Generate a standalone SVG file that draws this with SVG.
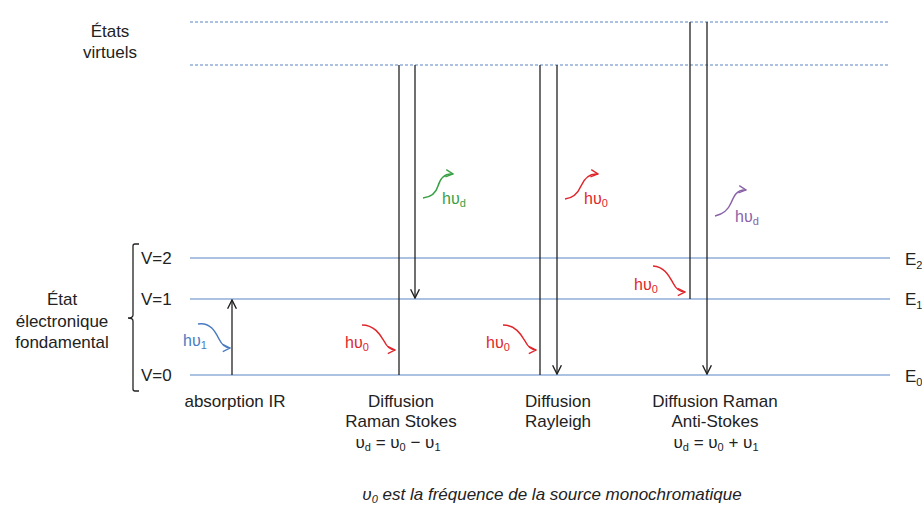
<svg xmlns="http://www.w3.org/2000/svg" width="922" height="509" viewBox="0 0 922 509">
<style>
text{font-family:"Liberation Sans",Arial,sans-serif;font-size:17px;fill:#222}
.c{text-anchor:middle}
.lvl{stroke:#5b86c5;stroke-width:1.2}
.virt{stroke:#5b86c5;stroke-width:1.2;stroke-dasharray:3 2}
.tr{stroke:#222;stroke-width:1.3;fill:none}
.wv{fill:none;stroke-width:1.5}
.sub{font-size:11px}
.ph{font-size:16px}
.red{fill:#e0262b}
</style>
<defs>
<marker id="ah" viewBox="0 0 10 10" refX="9" refY="5" markerWidth="11" markerHeight="11" markerUnits="userSpaceOnUse" orient="auto"><path d="M1,1 L9,5 L1,9" fill="none" stroke="#222" stroke-width="1.3"/></marker>
<marker id="ahr" viewBox="0 0 10 10" refX="9" refY="5" markerWidth="9" markerHeight="9" markerUnits="userSpaceOnUse" orient="auto"><path d="M1,1 L9,5 L1,9" fill="none" stroke="#e0262b" stroke-width="1.5"/></marker>
<marker id="ahb" viewBox="0 0 10 10" refX="9" refY="5" markerWidth="9" markerHeight="9" markerUnits="userSpaceOnUse" orient="auto"><path d="M1,1 L9,5 L1,9" fill="none" stroke="#4a7cc0" stroke-width="1.5"/></marker>
<marker id="ahg" viewBox="0 0 10 10" refX="9" refY="5" markerWidth="9" markerHeight="9" markerUnits="userSpaceOnUse" orient="auto"><path d="M1,1 L9,5 L1,9" fill="none" stroke="#3aa045" stroke-width="1.5"/></marker>
<marker id="ahp" viewBox="0 0 10 10" refX="9" refY="5" markerWidth="9" markerHeight="9" markerUnits="userSpaceOnUse" orient="auto"><path d="M1,1 L9,5 L1,9" fill="none" stroke="#8a62a8" stroke-width="1.5"/></marker>
</defs>
<rect width="922" height="509" fill="#fff"/>

<g id="levels">
<line class="virt" x1="190" y1="22" x2="890" y2="22"/>
<line class="virt" x1="190" y1="65" x2="890" y2="65"/>
<line class="lvl" x1="190" y1="258" x2="890" y2="258"/>
<line class="lvl" x1="190" y1="299" x2="890" y2="299"/>
<line class="lvl" x1="190" y1="375" x2="890" y2="375"/>
<text x="905" y="265">E<tspan class="sub" dy="4">2</tspan></text>
<text x="905" y="305">E<tspan class="sub" dy="4">1</tspan></text>
<text x="905" y="382">E<tspan class="sub" dy="4">0</tspan></text>
<text x="141" y="264">V=2</text>
<text x="141" y="305">V=1</text>
<text x="141" y="381">V=0</text>
</g>

<g id="labels-left">
<text class="c" x="110" y="37">États</text>
<text class="c" x="110" y="58">virtuels</text>
<text class="c" x="62" y="305">État</text>
<text class="c" x="62" y="327">électronique</text>
<text class="c" x="62" y="348">fondamental</text>
<path class="tr" d="M139,244 L135,244 Q133,244 133,246 L133,315 Q133,318 128,318 Q133,318 133,321 L133,389 Q133,391 135,391 L139,391" stroke-width="1.2"/>
</g>

<g id="connectors">
<line class="tr" x1="232" y1="375" x2="232" y2="300" marker-end="url(#ah)"/>
<line class="tr" x1="399" y1="375" x2="399" y2="65"/>
<line class="tr" x1="415" y1="65" x2="415" y2="298" marker-end="url(#ah)"/>
<line class="tr" x1="540" y1="375" x2="540" y2="65"/>
<line class="tr" x1="557" y1="65" x2="557" y2="374" marker-end="url(#ah)"/>
<line class="tr" x1="690" y1="299" x2="690" y2="22"/>
<line class="tr" x1="707" y1="22" x2="707" y2="374" marker-end="url(#ah)"/>
</g>

<g id="absorption-ir">
<path class="wv" stroke="#4a7cc0" d="M198,324 C210,322 215,331 219,339 C222,345 225,348 230,348" marker-end="url(#ahb)"/>
<text class="ph" x="183" y="346" style="fill:#4a7cc0">hυ<tspan class="sub" dy="3">1</tspan></text>
<text class="c" x="235" y="407">absorption IR</text>
</g>

<g id="raman-stokes">
<path class="wv" stroke="#e0262b" d="M362,325 C374,325 380,334 384,341 C387,347 390,350 395,350" marker-end="url(#ahr)"/>
<text class="ph red" x="345" y="348">hυ<tspan class="sub" dy="3">0</tspan></text>
<path class="wv" stroke="#3aa045" d="M423,198 C432,197 436,193 438,186 C440,179 444,173 453,174" marker-end="url(#ahg)"/>
<text class="ph" x="442" y="204" style="fill:#3aa045">hυ<tspan class="sub" dy="3">d</tspan></text>
<text class="c" x="401" y="407">Diffusion</text>
<text class="c" x="401" y="427">Raman Stokes</text>
<text class="c" x="398" y="448">υ<tspan class="sub" dy="3">d</tspan><tspan dy="-3"> = υ</tspan><tspan class="sub" dy="3">0</tspan><tspan dy="-3"> − υ</tspan><tspan class="sub" dy="3">1</tspan></text>
</g>

<g id="rayleigh">
<path class="wv" stroke="#e0262b" d="M503,325 C515,325 521,334 525,341 C528,347 531,350 536,350" marker-end="url(#ahr)"/>
<text class="ph red" x="486" y="348">hυ<tspan class="sub" dy="3">0</tspan></text>
<path class="wv" stroke="#e0262b" d="M565,199 C574,198 578,193 581,186 C584,179 589,173 598,174" marker-end="url(#ahr)"/>
<text class="ph red" x="584" y="204">hυ<tspan class="sub" dy="3">0</tspan></text>
<text class="c" x="558" y="407">Diffusion</text>
<text class="c" x="558" y="427">Rayleigh</text>
</g>

<g id="anti-stokes">
<path class="wv" stroke="#e0262b" d="M653,266 C665,267 669,276 673,283 C676,289 679,292 685,292" marker-end="url(#ahr)"/>
<text class="ph red" x="634" y="290">hυ<tspan class="sub" dy="3">0</tspan></text>
<path class="wv" stroke="#8a62a8" d="M715,216 C724,214 728,210 731,203 C734,196 737,189 746,190" marker-end="url(#ahp)"/>
<text class="ph" x="735" y="222" style="fill:#8a62a8">hυ<tspan class="sub" dy="3">d</tspan></text>
<text class="c" x="715" y="407">Diffusion Raman</text>
<text class="c" x="715" y="427">Anti-Stokes</text>
<text class="c" x="716" y="448">υ<tspan class="sub" dy="3">d</tspan><tspan dy="-3"> = υ</tspan><tspan class="sub" dy="3">0</tspan><tspan dy="-3"> + υ</tspan><tspan class="sub" dy="3">1</tspan></text>
</g>

<g id="footnote">
<text class="c" x="552" y="500" font-style="italic">υ<tspan class="sub" dy="3">0</tspan><tspan dy="-3"> est la fréquence de la source monochromatique</tspan></text>
</g>
</svg>
